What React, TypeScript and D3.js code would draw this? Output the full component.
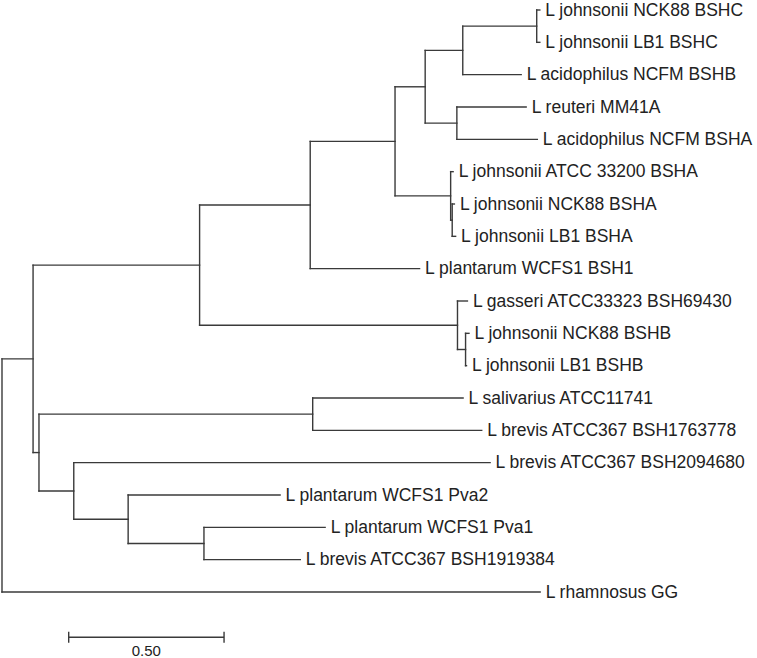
import React from "react";
import * as d3 from "d3";

// Tree topology: node ids, their parents, and branch lengths (substitutions/site)
const nodeIds = [
  "root", "n33", "n199", "n310", "nA", "nB", "nC", "nD",
  "L johnsonii NCK88 BSHC", "L johnsonii LB1 BSHC", "L acidophilus NCFM BSHB",
  "nE", "L reuteri MM41A", "L acidophilus NCFM BSHA",
  "nF", "L johnsonii ATCC 33200 BSHA", "nG", "L johnsonii NCK88 BSHA", "L johnsonii LB1 BSHA",
  "L plantarum WCFS1 BSH1",
  "nH", "L gasseri ATCC33323 BSH69430", "nI", "L johnsonii NCK88 BSHB", "L johnsonii LB1 BSHB",
  "n39", "nS", "L salivarius ATCC11741", "L brevis ATCC367 BSH1763778",
  "n73", "L brevis ATCC367 BSH2094680", "n128", "L plantarum WCFS1 Pva2",
  "n203", "L plantarum WCFS1 Pva1", "L brevis ATCC367 BSH1919384",
  "L rhamnosus GG",
];
const parentIds = [
  "", "root", "n33", "n199", "n310", "nA", "nB", "nC",
  "nD", "nD", "nC",
  "nB", "nE", "nE",
  "nA", "nF", "nF", "nG", "nG",
  "n310",
  "n199", "nH", "nH", "nI", "nI",
  "n33", "n39", "nS", "nS",
  "n39", "n73", "n73", "n128",
  "n128", "n203", "n203",
  "root",
];
const branchLengths = [
  0, 0.100, 0.536, 0.356, 0.273, 0.097, 0.121, 0.238,
  0.010, 0.010, 0.188,
  0.102, 0.223, 0.259,
  0.179, 0.008, 0.005, 0.007, 0.011,
  0.352,
  0.830, 0.032, 0.026, 0.011, 0.003,
  0.019, 0.881, 0.484, 0.544,
  0.112, 1.340, 0.175, 0.489,
  0.244, 0.390, 0.310,
  1.732,
];
const scaleBarValue = 0.5;
const scaleBarLabel = "0.50";

const W = 757;
const H = 658;

export default function App() {
  const rows = nodeIds.map((id, i) => ({ id, parent: parentIds[i] || null, len: branchLengths[i] }));
  const root = d3
    .stratify<any>()
    .id((d) => d.id)
    .parentId((d) => d.parent)(rows);

  // cumulative distance from root
  root.eachBefore((n: any) => {
    n.dist = n.parent ? n.parent.dist + n.data.len : 0;
  });
  const leaves = root.leaves();
  const x = d3.scaleLinear().domain([0, 1]).range([2, 312.7]);
  const y = d3.scaleLinear().domain([0, leaves.length - 1]).range([10, 592]);
  leaves.forEach((l: any, i) => (l.yy = y(i)));
  root.eachAfter((n: any) => {
    if (n.children) {
      n.yy = (n.children[0].yy + n.children[n.children.length - 1].yy) / 2;
    }
  });

  const stroke = "#3a3a3a";
  const sw = 1.4;
  const lines: React.ReactNode[] = [];
  root.each((n: any) => {
    const nx = x(n.dist);
    if (n.parent) {
      lines.push(
        <line key={"h" + n.id} x1={x(n.parent.dist)} x2={nx} y1={n.yy} y2={n.yy} stroke={stroke} strokeWidth={sw} strokeLinecap="square" />
      );
    }
    if (n.children) {
      const c0 = n.children[0];
      const c1 = n.children[n.children.length - 1];
      lines.push(
        <line key={"v" + n.id} x1={nx} x2={nx} y1={c0.yy} y2={c1.yy} stroke={stroke} strokeWidth={sw} strokeLinecap="square" />
      );
    }
  });

  const sbX0 = 68.7;
  const sbX1 = sbX0 + (x(scaleBarValue) - x(0));
  const sbY = 637.3;

  return (
    <svg width={W} height={H} style={{ position: "absolute", left: 0, top: 0, background: "#fff" }} fontFamily="'Liberation Sans', Arial, sans-serif">
      <rect width={W} height={H} fill="#fff" />
      {lines}
      {leaves.map((l: any) => (
        <text key={"t" + l.id} x={x(l.dist) + 5.5} y={l.yy} dy="0.33em" fontSize={17.5} fill="#222">
          {l.id}
        </text>
      ))}
      <line x1={sbX0} x2={sbX1} y1={sbY} y2={sbY} stroke={stroke} strokeWidth={sw} />
      <line x1={sbX0} x2={sbX0} y1={sbY - 5.5} y2={sbY + 5.5} stroke={stroke} strokeWidth={sw} />
      <line x1={sbX1} x2={sbX1} y1={sbY - 5.5} y2={sbY + 5.5} stroke={stroke} strokeWidth={sw} />
      <text x={(sbX0 + sbX1) / 2} y={656} textAnchor="middle" fontSize={15} fill="#222">
        {scaleBarLabel}
      </text>
    </svg>
  );
}
